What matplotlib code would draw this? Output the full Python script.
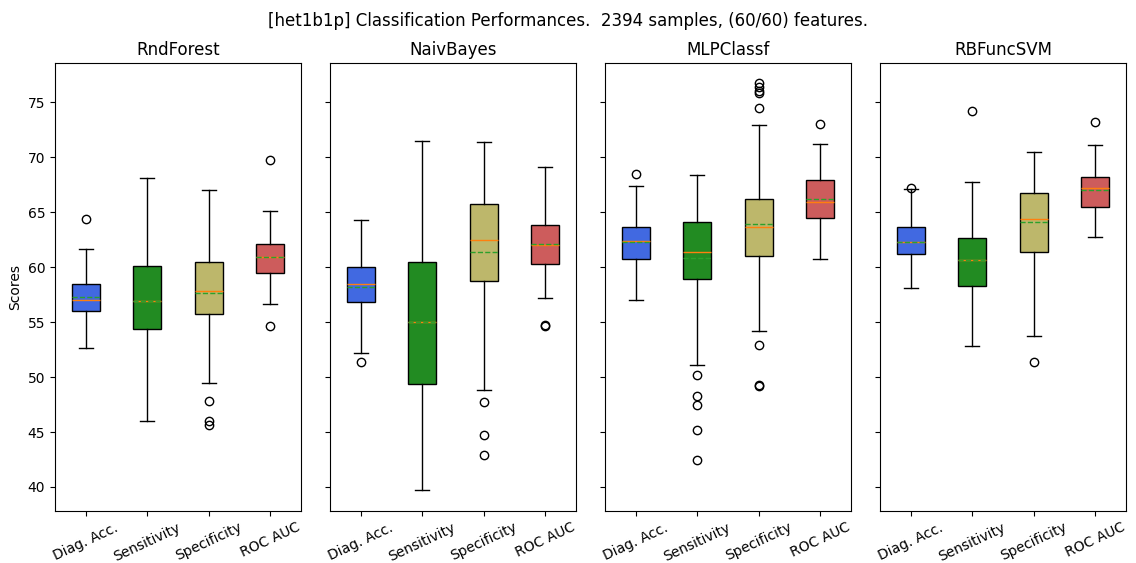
import matplotlib
matplotlib.use('Agg')
import matplotlib.pyplot as plt

# classifiers and metrics
classifiers = ['RndForest', 'NaivBayes', 'MLPClassf', 'RBFuncSVM']
metrics = ['Diag. Acc.', 'Sensitivity', 'Specificity', 'ROC AUC']
colors = ['royalblue', 'forestgreen', 'darkkhaki', 'indianred']

# box stats: [Diag. Acc., Sensitivity, Specificity, ROC AUC]
whislo = [[52.6, 46.0, 49.5, 56.6],
          [52.2, 39.7, 48.8, 57.2],
          [57.0, 51.1, 54.2, 60.7],
          [58.1, 52.8, 53.7, 62.7]]
q1 = [[56.0, 54.4, 55.7, 59.5],
      [56.8, 49.4, 58.7, 60.3],
      [60.7, 58.9, 61.0, 64.5],
      [61.2, 58.3, 61.4, 65.5]]
med = [[57.0, 56.9, 57.8, 60.9],
       [58.5, 55.0, 62.5, 62.0],
       [62.4, 61.4, 63.6, 65.9],
       [62.3, 60.6, 64.4, 67.2]]
mean = [[57.3, 56.9, 57.6, 60.9],
        [58.2, 55.0, 61.4, 62.1],
        [62.3, 60.8, 63.9, 66.2],
        [62.3, 60.6, 64.1, 67.0]]
q3 = [[58.5, 60.1, 60.5, 62.1],
      [60.0, 60.5, 65.7, 63.8],
      [63.6, 64.1, 66.2, 67.9],
      [63.6, 62.6, 66.7, 68.2]]
whishi = [[61.6, 68.1, 67.0, 65.1],
          [64.3, 71.5, 71.4, 69.1],
          [67.4, 68.4, 72.9, 71.2],
          [67.1, 67.7, 70.5, 71.1]]
fliers = [[[64.4], [], [47.8, 46.0, 45.6], [69.7, 54.6]],
          [[51.4], [], [47.7, 44.7, 42.9], [54.7, 54.6]],
          [[68.5], [50.2, 48.3, 47.5, 45.2, 42.5],
           [76.7, 76.4, 76.0, 75.8, 74.5, 52.9, 49.3, 49.2], [73.0]],
          [[67.2], [74.2], [51.4], [73.2]]]

fig, axes = plt.subplots(1, 4, sharey=True, figsize=(11.36, 5.63), dpi=100)
fig.subplots_adjust(left=0.0484, right=0.9912, bottom=0.093, top=0.888, wspace=0.118)

for k, ax in enumerate(axes):
    stats = []
    for j, m in enumerate(metrics):
        stats.append(dict(label=m, whislo=whislo[k][j], q1=q1[k][j], med=med[k][j],
                          mean=mean[k][j], q3=q3[k][j], whishi=whishi[k][j],
                          fliers=fliers[k][j]))
    bp = ax.bxp(stats, widths=0.45, patch_artist=True, showmeans=True, meanline=True)
    for patch, col in zip(bp['boxes'], colors):
        patch.set_facecolor(col)
    ax.set_title(classifiers[k], fontsize=12)
    ax.tick_params(axis='x', labelrotation=25, labelsize=10)
    for lab in ax.get_xticklabels():
        lab.set_ha('center')

axes[0].set_ylabel('Scores')
fig.suptitle('[het1b1p] Classification Performances.  2394 samples, (60/60) features.',
             fontsize=12, y=0.978)

plt.savefig('out.png')
